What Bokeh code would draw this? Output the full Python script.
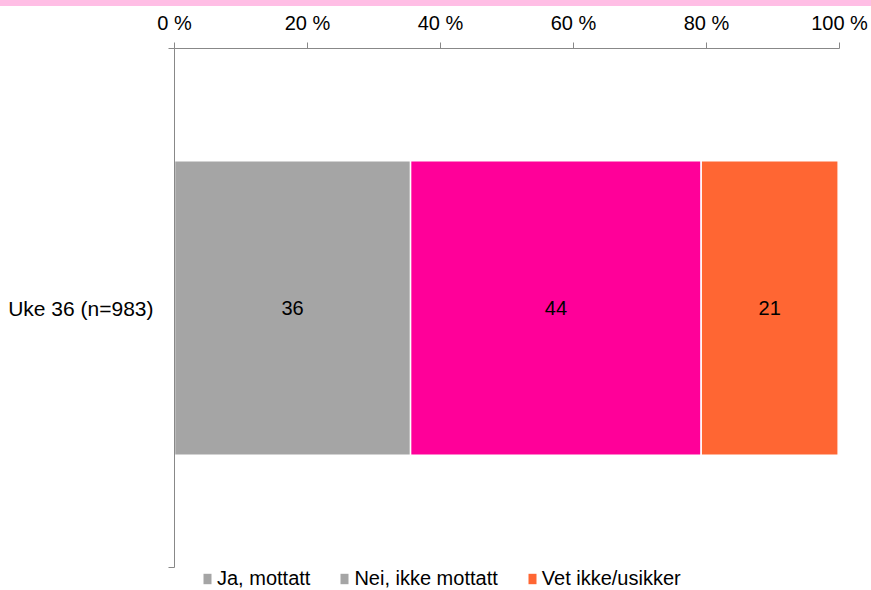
import numpy as np
from bokeh.plotting import figure
from bokeh.models import (ColumnDataSource, Range1d, FixedTicker, Legend,
                          LegendItem, Div)
from bokeh.layouts import column
from bokeh.embed import file_html
from bokeh.resources import INLINE
from bokeh.core.properties import value

# ---- data ----
categories = ["Uke 36 (n=983)"]
series = ["Ja, mottatt", "Nei, ikke mottatt", "Vet ikke/usikker"]
values = [35.5, 43.7, 20.6]
data_labels = ["36", "44", "21"]
x_ticks = [0, 20, 40, 60, 80, 100]
x_tick_labels = ["0 %", "20 %", "40 %", "60 %", "80 %", "100 %"]

# ---- styles ----
bar_colors = ["#A5A5A5", "#FF0099", "#FF6633"]
legend_colors = ["#A5A5A5", "#A5A5A5", "#FF6633"]
FONT = "Liberation Sans"
AXIS_COLOR = "#888888"

vals = np.array(values, dtype=float)
ends = np.cumsum(vals)
starts = ends - vals
cat_pos = [categories.index(categories[0]) + 0.5] * len(series)

src = ColumnDataSource(dict(
    y=cat_pos, left=starts, right=ends, mid=(starts + ends) / 2,
    color=bar_colors, legend_color=legend_colors, label=data_labels,
    series=series))

# plot area extends a little below the category band to hold the legend
n_cat = len(categories)
band_px = 519.0      # pixel height of the category band
legend_px = 23.0     # room below it for the legend
y_low = -n_cat * legend_px / band_px

p = figure(width=871, height=584, x_range=Range1d(0, 100),
           y_range=Range1d(y_low, n_cat),
           x_axis_location="above", output_backend="svg",
           toolbar_location=None,
           min_border_left=174, min_border_right=32,
           min_border_top=42, min_border_bottom=0)
p.outline_line_color = None
p.grid.visible = False
p.background_fill_color = "white"
p.border_fill_color = "white"

p.hbar(y="y", left="left", right="right", height=0.567, fill_color="color",
       line_color="white", line_width=1.5, source=src)

p.text(x="mid", y="y", text="label", source=src, text_align="center",
       text_baseline="middle", text_font=value(FONT),
       text_font_size="20px", text_color="#000000")

# x axis (top)
xa = p.xaxis[0]
xa.ticker = FixedTicker(ticks=x_ticks)
xa.major_label_overrides = {t: l for t, l in zip(x_ticks, x_tick_labels)}
xa.axis_line_color = AXIS_COLOR
xa.major_tick_line_color = AXIS_COLOR
xa.major_tick_in = 0
xa.major_tick_out = 6
xa.minor_tick_line_color = None
xa.major_label_standoff = 9
xa.major_label_text_font = FONT
xa.major_label_text_font_size = "20px"
xa.major_label_text_color = "#000000"

# y axis (category)
ya = p.yaxis[0]
ya.bounds = (0, n_cat)
ya.ticker = FixedTicker(ticks=[i + 0.5 for i in range(n_cat)],
                        minor_ticks=list(range(n_cat + 1)))
ya.major_label_overrides = {i + 0.5: c for i, c in enumerate(categories)}
ya.axis_line_color = AXIS_COLOR
ya.major_tick_line_color = None
ya.major_tick_in = 0
ya.major_tick_out = 0
ya.minor_tick_line_color = AXIS_COLOR
ya.minor_tick_in = 0
ya.minor_tick_out = 6
ya.major_label_standoff = 15
ya.major_label_text_font = FONT
ya.major_label_text_font_size = "21px"
ya.major_label_text_color = "#000000"

# legend (its swatches come from a hidden copy of the bars)
r_leg = p.hbar(y="y", left="left", right="right", height=0.567,
               fill_color="legend_color", line_color=None, source=src,
               visible=False)
items = [LegendItem(label=s, renderers=[r_leg], index=i)
         for i, s in enumerate(series)]
legend = Legend(items=items, orientation="horizontal", location=(28, 0),
                glyph_width=10, glyph_height=13, label_standoff=5,
                spacing=29, padding=0, margin=0, border_line_color=None,
                background_fill_alpha=0, label_text_font=FONT,
                label_text_font_size="20px", label_text_color="#000000",
                label_height=20)
p.add_layout(legend, "center")

# pink stripe along the top edge
stripe = Div(text="", width=871, height=6, margin=0,
             styles={"background-color": "#FFBEE5"})

layout = column(stripe, p, spacing=0)
open("out.html", "w").write(file_html(layout, INLINE))
